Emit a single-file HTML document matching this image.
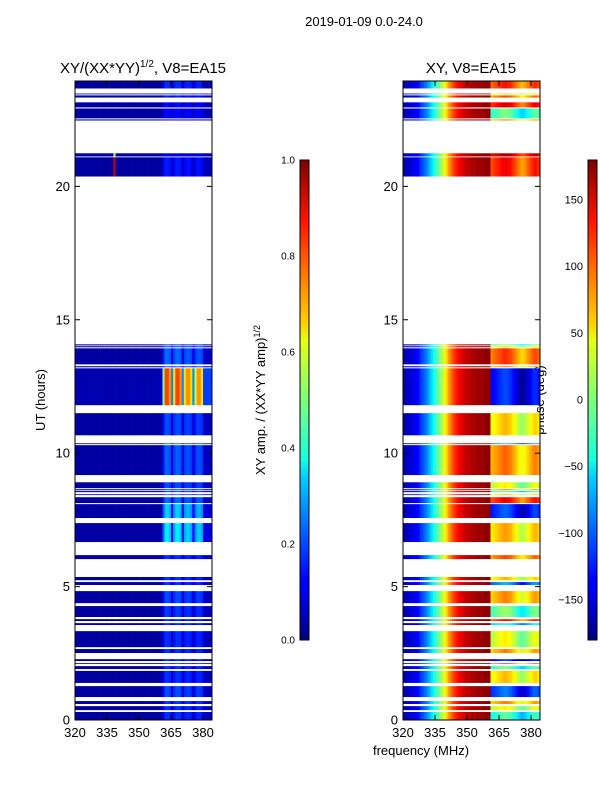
<!DOCTYPE html>
<html><head><meta charset="utf-8"><style>
body{margin:0;background:#fff;}
svg{display:block;font-family:"Liberation Sans",sans-serif;}
</style></head><body>
<svg id="fig" width="600" height="800" viewBox="0 0 600 800">
<defs>
<linearGradient id="jet" x1="0" y1="1" x2="0" y2="0">
<stop offset="0" stop-color="#000080"/><stop offset="0.11" stop-color="#0000ff"/>
<stop offset="0.125" stop-color="#0000ff"/><stop offset="0.34" stop-color="#00d0ff"/>
<stop offset="0.375" stop-color="#16ffe1"/><stop offset="0.5" stop-color="#7dff7a"/>
<stop offset="0.625" stop-color="#e4ff13"/><stop offset="0.66" stop-color="#ffd200"/>
<stop offset="0.875" stop-color="#ff1300"/><stop offset="1" stop-color="#800000"/>
</linearGradient>
</defs>
<text x="364" y="26" font-size="13" text-anchor="middle">2019-01-09 0.0-24.0</text>
<text x="143" y="73" font-size="15" text-anchor="middle">XY/(XX*YY)<tspan font-size="10" dy="-6">1/2</tspan><tspan dy="6">, V8=EA15</tspan></text>
<text x="471" y="73" font-size="15" text-anchor="middle">XY, V8=EA15</text>
<text transform="translate(45,400) rotate(-90)" font-size="13" text-anchor="middle">UT (hours)</text>
<text transform="translate(265,400) rotate(-90)" font-size="13" text-anchor="middle">XY amp. / (XX*YY amp)<tspan font-size="9" dy="-5">1/2</tspan></text>
<text transform="translate(544,400) rotate(-90)" font-size="13" text-anchor="middle">phase (deg)</text>
<text x="421" y="755" font-size="13" text-anchor="middle">frequency (MHz)</text>
<g id="left"></g>
<g id="right"></g>
<rect x="300" y="160" width="9" height="480" fill="url(#jet)" stroke="#000" stroke-width="1"/>
<rect x="588" y="160" width="9" height="480" fill="url(#jet)" stroke="#000" stroke-width="1"/>
<g id="cb" font-size="10"></g>
</svg>
<script>
const segments=[[0,0.30],[0.37,0.52],[0.60,0.71],[0.86,1.27],[1.39,1.84],[1.91,2.02],[2.10,2.13],[2.21,2.28],[2.51,2.66],[2.73,3.33],[3.56,3.63],[3.71,3.78],[3.86,4.27],[4.38,4.83],[5.06,5.17],[5.24,5.36],[6.03,6.18],[6.67,7.38],[7.57,8.09],[8.13,8.35],[8.43,8.46],[8.54,8.58],[8.61,8.65],[8.69,8.91],[9.18,10.30],[10.34,10.37],[10.67,11.5],[11.8,13.18],[13.22,13.26],[13.33,13.93],[13.97,14.01],[14.04,14.08],[20.37,21.09],[21.12,21.24],[22.47,22.51],[22.55,22.92],[22.96,23.15],[23.33,23.41],[23.45,23.48],[23.67,23.93]];
const ampLevel=[0.14,0.14,0.15,0.17,0.14,0.14,0.14,0.14,0.14,0.14,0.14,0.14,0.15,0.17,0.14,0.14,0.14,0.33,0.3,0.2,0.17,0.17,0.17,0.17,0.19,0.17,0.17,0.78,0.2,0.2,0.17,0.17,0.12,0.08,0.1,0.1,0.1,0.12,0.12,0.14];
const ampSpike=[0,0,0,0,0,0,0,0,0,0,0,0,0,0,0,0,0,0,0,0,0,0,0,0,0,0,0,0,0,0,0,0,0.9,0.5,0,0,0,0,0,0];
const freqs=[];for(let f=320;f<384;f++)freqs.push(f);
const chanWeight=[0.02,0.02,0.02,0.02,0.02,0.02,0.02,0.02,0.02,0.02,0.02,0.02,0.02,0.02,0.02,0.02,0.02,0.02,0.02,0.02,0.02,0.02,0.02,0.02,0.02,0.02,0.02,0.02,0.02,0.02,0.02,0.02,0.02,0.02,0.02,0.02,0.02,0.02,0.02,0.02,0.05,0.6,1.0,1.0,0.9,0.3,0.8,1.0,1.0,0.9,0.3,0.8,0.9,0.9,0.8,0.3,0.7,0.9,0.9,0.8,0.2,0.05,0.03,0.03];
const phaseProfile=[-165,-160,-155,-150,-145,-140,-135,-130,-115,-105,-95,-85,-70,-55,-40,-25,-10,5,20,40,60,80,95,110,120,130,140,145,150,155,160,160,165,165,170,170,170,170,175,175,175];
const phaseHigh=[-40,20,60,-120,40,-30,80,-140,60,20,-60,100,-20,60,-100,40,80,50,-130,110,40,-40,60,20,70,-100,40,-140,60,90,30,-20,110,140,60,-30,120,80,40,100];
const chanMod=[0,5,10,15,20,25,30,30,25,20,10,0,-10,-20,-30,-30,-20,-10,0,10,20,20,10];
const X0=75,XW=137,Y0=720,YH=639,FMIN=320,FMAX=384.2,HMAX=23.95;
const xs=f=>(f-FMIN)/(FMAX-FMIN)*XW, ys=h=>Y0-h/HMAX*YH;
function jet(v){v=Math.max(0,Math.min(1,v));const c=t=>Math.round(255*Math.max(0,Math.min(1,1.5-Math.abs(4*v-t))));return `rgb(${c(3)},${c(2)},${c(1)})`;}
const NS="http://www.w3.org/2000/svg";
function panel(gid,x0,valFn){
  const g=document.getElementById(gid);
  segments.forEach((s,si)=>{
    const y1=ys(s[1]),y2=ys(s[0]);
    freqs.forEach((f,ci)=>{
      const r=document.createElementNS(NS,'rect');
      
      
      r.setAttribute('x',(x0+xs(f)).toFixed(2));
      r.setAttribute('width',(xs(f+1)-xs(f)+0.3).toFixed(2));
      r.setAttribute('y',y1.toFixed(2));
      r.setAttribute('height',Math.max(0.8,y2-y1).toFixed(2));
      r.setAttribute('fill',jet(valFn(si,ci,f)));
      g.appendChild(r);
    });
  });
  const fr=document.createElementNS(NS,'rect');
  
  
  fr.setAttribute('x',x0);fr.setAttribute('y',Y0-YH);fr.setAttribute('width',XW);fr.setAttribute('height',YH);
  fr.setAttribute('fill','none');fr.setAttribute('stroke','#000');
  g.appendChild(fr);
  [0,5,10,15,20].forEach(h=>{
    const y=ys(h);
    const t=document.createElementNS(NS,'text');
    
    
    t.setAttribute('x',x0-5);t.setAttribute('y',y+4.5);t.setAttribute('font-size','13');t.setAttribute('text-anchor','end');
    t.textContent=h;g.appendChild(t);
    const l=document.createElementNS(NS,'path');
    
    
    l.setAttribute('d',`M${x0} ${y}h5M${x0+XW} ${y}h-5`);l.setAttribute('stroke','#000');
    g.appendChild(l);
  });
  [320,335,350,365,380].forEach(f=>{
    const x=x0+xs(f);
    const t=document.createElementNS(NS,'text');
    
    
    t.setAttribute('x',x);t.setAttribute('y',Y0+17);t.setAttribute('font-size','13');t.setAttribute('text-anchor','middle');
    t.textContent=f;g.appendChild(t);
    const l=document.createElementNS(NS,'path');
    
    
    l.setAttribute('d',`M${x} ${Y0}v-5M${x} ${Y0-YH}v5`);l.setAttribute('stroke','#000');
    g.appendChild(l);
  });
}
panel('left',75,(si,ci,f)=>{let v=ampLevel[si]*chanWeight[ci]+0.03;if(f===338)v+=ampSpike[si];if(chanWeight[ci]<0.1&&f>360)v=0.03+ampLevel[si]*0.2;return v;});
panel('right',403,(si,ci,f)=>{let p=ci<phaseProfile.length?phaseProfile[ci]:phaseHigh[si]+chanMod[(ci-phaseProfile.length)%chanMod.length];if(p>180)p-=360;if(p<-180)p+=360;return (p+180)/360;});
const cb=document.getElementById('cb');
const ampTicks=[0,0.2,0.4,0.6,0.8,1.0], phaseTicks=[-150,-100,-50,0,50,100,150];
ampTicks.forEach(v=>{const y=640-v*480;
  const t=document.createElementNS(NS,'text');
  
  
  t.setAttribute('x',295);t.setAttribute('y',y+3.5);t.setAttribute('text-anchor','end');t.textContent=v.toFixed(1);cb.appendChild(t);});
phaseTicks.forEach(v=>{const y=399.5-v/180*240;
  const t=document.createElementNS(NS,'text');
  
  
  t.setAttribute('x',583);t.setAttribute('y',y+4);t.setAttribute('font-size','11');t.setAttribute('text-anchor','end');t.textContent=v<0?'\u2212'+(-v):v;cb.appendChild(t);});
</script>
</body></html>
